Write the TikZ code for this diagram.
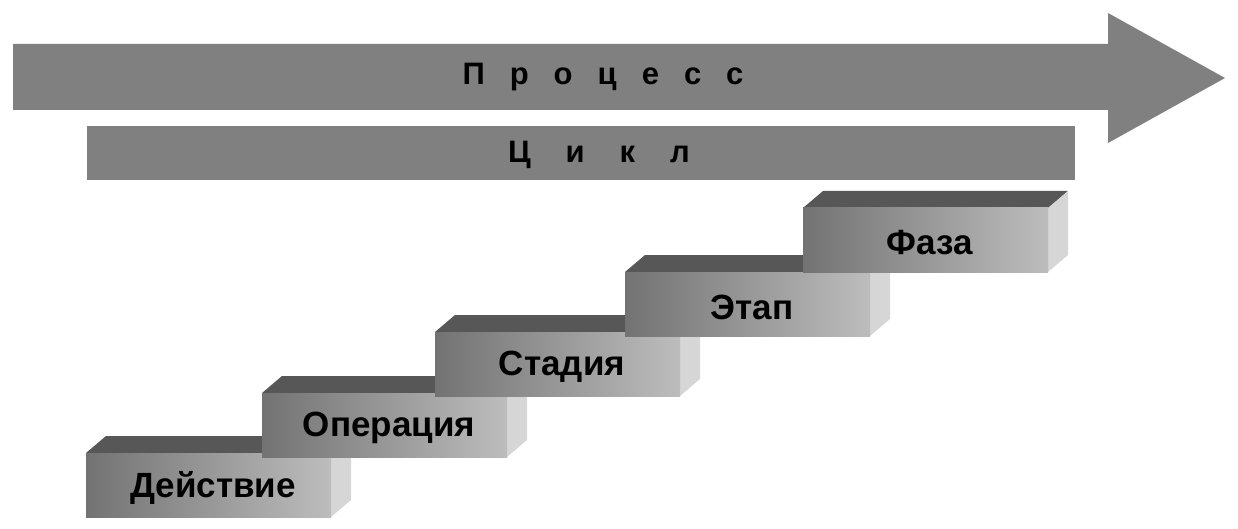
\documentclass[tikz,border=0pt]{standalone}
\usepackage{fontspec}
\setmainfont{Liberation Sans}
\tikzset{
  band/.style={fill=black!50},
  topface/.style={fill=black!66},
  sideface/.style={fill=black!16},
  steplabel/.style={font=\bfseries\fontsize{35}{35}\selectfont, text=black, inner sep=0pt},
  bandlabel/.style={font=\bfseries\fontsize{31}{31}\selectfont, text=black, inner sep=0pt},
}
\newcommand\stepblock[4]{%
  \begin{scope}[shift={(#1,#2)}]
    \fill[topface] (0,0) -- (20,-17) -- (265,-17) -- (245,0) -- cycle;
    \fill[sideface] (245,0) -- (265,-17) -- (265,47) -- (245,64) -- cycle;
    \shade[left color=black!55, right color=black!26] (0,0) rectangle (245,64);
    \node[steplabel] (#3) at (127,35) {#4};
  \end{scope}}
\begin{document}
\begin{tikzpicture}[x=1pt,y=-1pt]
  \useasboundingbox (0,0) rectangle (1238,529);
  % process arrow
  \fill[band] (13,44) -- (1108,44) -- (1108,13) -- (1225,78) -- (1108,143) -- (1108,110) -- (13,110) -- cycle;
  \node[bandlabel] (process) at (603,77) {П\hspace{25pt}р\hspace{25pt}о\hspace{25pt}ц\hspace{25pt}е\hspace{25pt}с\hspace{25pt}с};
  % cycle bar
  \fill[band] (87,126) rectangle (1075,180);
  \node[bandlabel] (cycle) at (599,155) {Ц\hspace{35pt}и\hspace{35pt}к\hspace{35pt}л};
  % steps
  \stepblock{86}{453}{s1}{Действие}
  \stepblock{262}{393}{s2}{Операция}
  \stepblock{435}{332}{s3}{Стадия}
  \stepblock{625}{272}{s4}{Этап}
  \stepblock{803}{208}{s5}{Фаза}
\end{tikzpicture}
\end{document}
